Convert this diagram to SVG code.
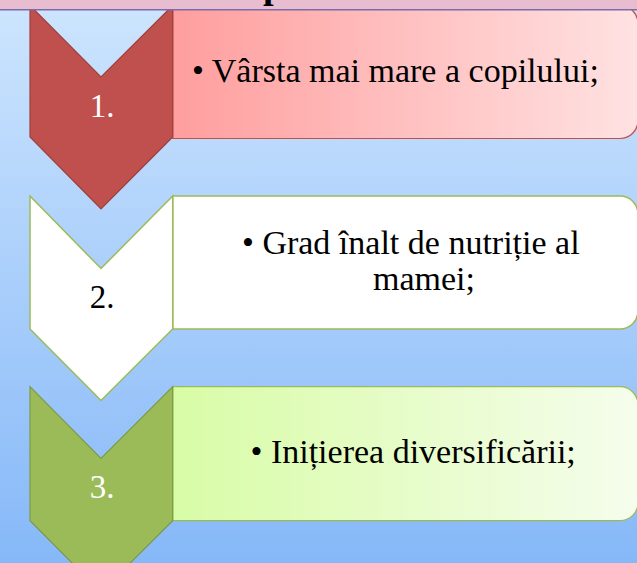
<svg xmlns="http://www.w3.org/2000/svg" width="637" height="563" viewBox="0 0 637 563">
<defs>
<linearGradient id="bg" x1="0" y1="0" x2="0" y2="1">
<stop offset="0" stop-color="#cde5fe"/>
<stop offset="1" stop-color="#86b8f8"/>
</linearGradient>
<linearGradient id="g1" x1="0" y1="0" x2="1" y2="0">
<stop offset="0" stop-color="#ff9e9e"/>
<stop offset="1" stop-color="#ffe2e2"/>
</linearGradient>
<linearGradient id="g3" x1="0" y1="0" x2="1" y2="0">
<stop offset="0" stop-color="#d8fca6"/>
<stop offset="1" stop-color="#f5fdec"/>
</linearGradient>
<clipPath id="strip"><rect x="0" y="0" width="637" height="9"/></clipPath>
</defs>
<style>
.txt{font-family:"Liberation Serif","Times New Roman",serif;font-size:34px;fill:#000}
.num{font-family:"Liberation Serif","Times New Roman",serif;font-size:33px;text-anchor:middle}
.c1{fill:#c0504d;stroke:#a03f3c;stroke-width:1.2}
.r1{fill:url(#g1);stroke:#c0504d;stroke-width:1.2}
.c2{fill:#ffffff;stroke:#9bbb59;stroke-width:1.5}
.r2{fill:#ffffff;stroke:#9bbb59;stroke-width:1.5}
.c3{fill:#9bbb59;stroke:#7d9a44;stroke-width:1.2}
.r3{fill:url(#g3);stroke:#9bbb59;stroke-width:1.2}
</style>
<rect x="0" y="0" width="637" height="563" fill="url(#bg)"/>
<g id="connectors"></g>
<g id="node1">
<path class="r1" d="M172.7,5.5 H620 A18,18 0 0 1 638,23.5 V120.5 A18,18 0 0 1 620,138.5 H172.7 Z"/>
<path class="c1" d="M30,5.5 L101,77 L172.7,5.5 L172.7,137 L101,209 L30,137 Z"/>
<text class="num" x="102" y="117" fill="#ffffff">1.</text>
<text class="txt" x="192" y="82">• Vârsta mai mare a copilului;</text>
</g>
<g id="node2">
<path class="r2" d="M172.7,196 H620 A18,18 0 0 1 638,214 V311 A18,18 0 0 1 620,329 H172.7 Z"/>
<path class="c2" d="M30,196 L101,268.5 L172.7,196 L172.7,329 L101,400.5 L30,329 Z"/>
<text class="num" x="102" y="308" fill="#000000">2.</text>
<text class="txt" x="242" y="254">• Grad înalt de nutriție al</text>
<text class="txt" x="373" y="289.5">mamei;</text>
</g>
<g id="node3">
<path class="r3" d="M172.7,386.7 H620 A18,18 0 0 1 638,404.7 V502.7 A18,18 0 0 1 620,520.7 H172.7 Z"/>
<path class="c3" d="M30,386.7 L101,458.3 L172.7,386.7 L172.7,520.7 L101,592 L30,520.7 Z"/>
<text class="num" x="102" y="498" fill="#ffffff">3.</text>
<text class="txt" x="250.5" y="462.7">• Inițierea diversificării;</text>
</g>
<g id="title">
<rect x="0" y="0" width="637" height="9.5" fill="#e9bdd0"/>
<text x="263" y="-2.5" clip-path="url(#strip)" style="font-family:'Liberation Serif','Times New Roman',serif;font-size:38px;font-weight:bold;fill:#000">p</text>
<line x1="0" y1="9.8" x2="637" y2="9.8" stroke="#7d6aae" stroke-width="1.6"/>
</g>
</svg>
